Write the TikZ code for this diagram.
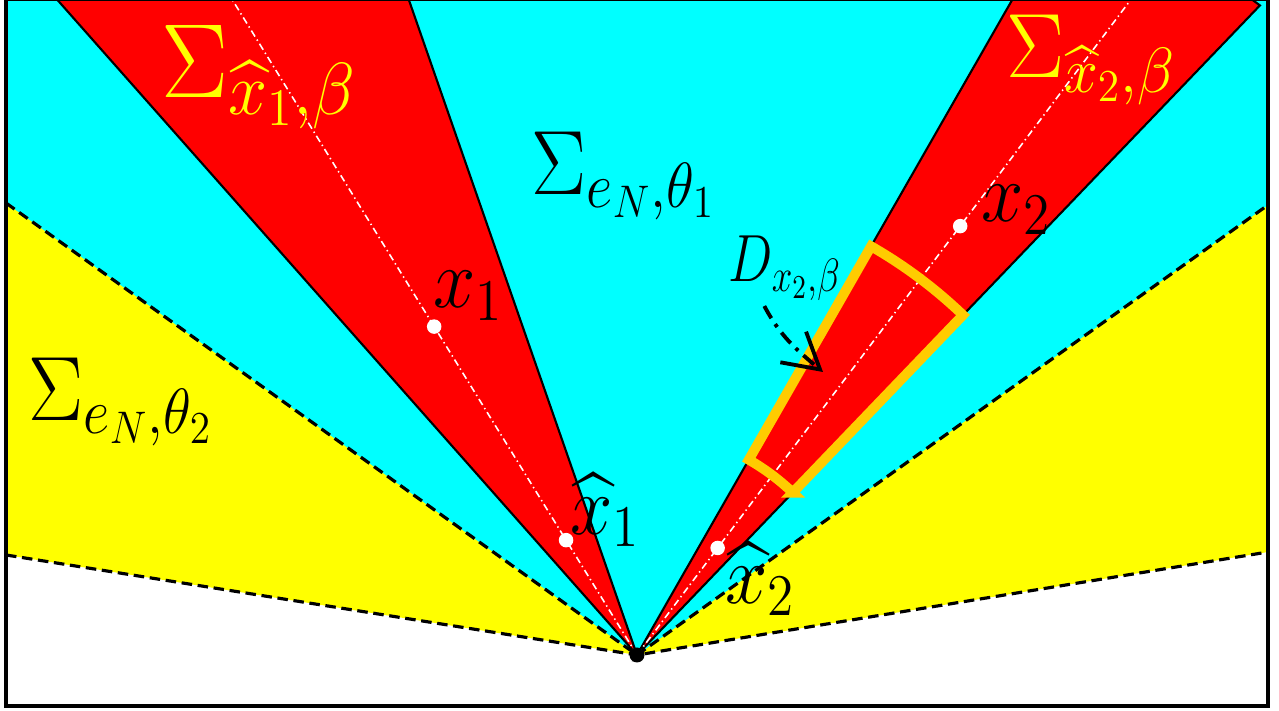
\RequirePackage{fix-cm}
\documentclass[tikz,border=0pt]{standalone}
\usepackage{amsmath,amssymb}
\usetikzlibrary{arrows.meta,positioning,calc}
\definecolor{conered}{HTML}{FF0000}
\definecolor{regcyan}{HTML}{00FFFF}
\definecolor{regyellow}{HTML}{FFFF00}
\definecolor{diskgold}{HTML}{FFCC00}
\tikzset{
    cone/.style={fill=conered,draw=black,line width=0.6pt},
    bdry/.style={draw=black,line width=0.9pt,dash pattern=on 3pt off 1.6pt},
    axisray/.style={draw=white,line width=0.45pt,dash pattern=on 2pt off 1pt on 0.4pt off 1pt},
    dball/.style={draw=diskgold,line width=2.8pt},
    wdot/.style={circle,fill=white,inner sep=0pt,minimum size=1.45mm},
    bdot/.style={circle,fill=black,inner sep=0pt,minimum size=1.5mm},
    lab/.style={inner sep=0pt,xscale=0.9,font=\fontsize{26}{30}\selectfont},
    ptlab/.style={lab,font=\fontsize{24}{28}\selectfont},
    ylab/.style={inner sep=0pt,xscale=0.95,text=regyellow,font=\fontsize{30}{34}\selectfont},
    ylabs/.style={ylab,font=\fontsize{26}{30}\selectfont},
    dlab/.style={inner sep=0pt,xscale=0.79,font=\fontsize{19}{23}\selectfont},
    ptr/.style={draw=black,line width=1.1pt,dash pattern=on 4pt off 2pt on 1pt off 2pt,-{Straight Barb[length=3.5mm,width=4mm]}},
}
\begin{document}
\begin{tikzpicture}
    \useasboundingbox (-6.37,-0.56) rectangle (6.42,6.55);
    \coordinate (O) at (0,0);
    \coordinate (lowL) at (-6.31,1.00);
    \coordinate (lowR) at (6.31,1.03);
    \coordinate (upL) at (-6.31,4.52);
    \coordinate (upR) at (6.31,4.50);

    \begin{scope}
        \clip (-6.31,-0.51) rectangle (6.31,6.6);
        % the two sectors around e_N
        \fill[regyellow] (O) -- (lowL) -- (-6.31,6.6) -- (6.31,6.6) -- (lowR) -- cycle;
        \fill[regcyan] (O) -- (upL) -- (-6.31,6.6) -- (6.31,6.6) -- (upR) -- cycle;
        \draw[bdry] (lowL) -- (O) -- (lowR);
        \draw[bdry] (upL) -- (O) -- (upR);
        % cones around x_1 and x_2
        \path[cone] (O) -- (131.5:9) -- (109.2:9) -- cycle;
        \path[cone] (O) -- (60.2:9) -- (46.2:9) -- cycle;
        \draw[axisray] (O) -- (121.7:9);
        \draw[axisray] (O) -- (53:9);
        % the piece D
        \draw[dball] (46.2:2.25) -- (46.2:4.71)
            arc[start angle=46.2,end angle=60.2,radius=4.71]
            -- (60.2:2.25) arc[start angle=60.2,end angle=46.2,radius=2.25] -- cycle;
    \end{scope}
    \draw[line width=0.9pt] (-6.31,-0.51) rectangle (6.31,6.56);

    \node[wdot] (x1) at (121.7:3.86) {};
    \node[wdot] (hx1) at (121.7:1.35) {};
    \node[wdot] (x2) at (53:5.37) {};
    \node[wdot] (hx2) at (53:1.34) {};
    \node[bdot] (apex) at (O) {};

    \node[ptlab] (lx1) at (-1.69,3.59) {$x_1$};
    \node[ptlab] (lhx1) at (-0.32,1.45) {$\widehat{x}_1$};
    \node[ptlab] (lx2) at (3.79,4.45) {$x_2$};
    \node[ptlab] (lhx2) at (1.23,0.76) {$\widehat{x}_2$};
    \node[lab] (lS1) at (-0.13,4.79) {$\Sigma_{e_N,\theta_1}$};
    \node[lab] (lS2) at (-5.16,2.53) {$\Sigma_{e_N,\theta_2}$};
    \node[ylab] (lSx1) at (-3.78,5.78) {$\Sigma_{\widehat{x}_1,\beta}$};
    \node[ylabs] (lSx2) at (4.54,5.95) {$\Sigma_{\widehat{x}_2,\beta}$};
    \node[dlab] (lD) at (1.48,3.87) {$D_{x_2,\beta}$};

    \coordinate (Dtip) at (1.86,2.83);
    \draw[ptr] ([xshift=3.6mm,yshift=-0.5mm]lD.south west) to[out=-62,in=140] (Dtip);
\end{tikzpicture}
\end{document}
